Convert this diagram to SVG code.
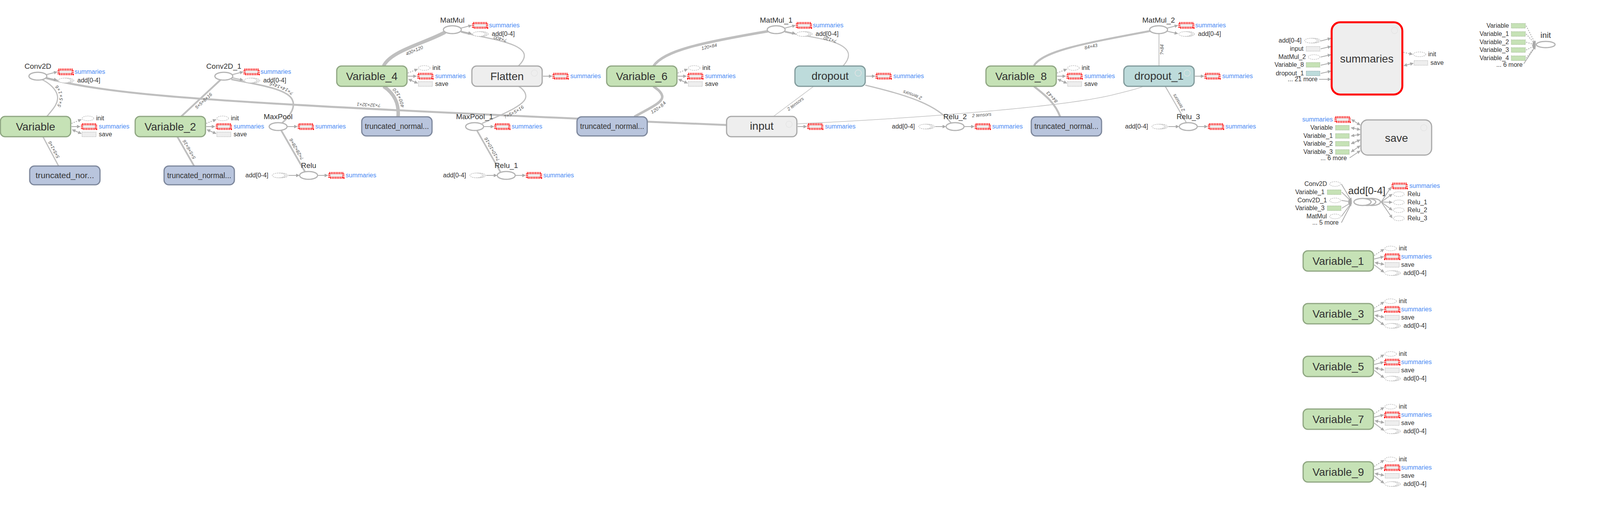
<svg xmlns="http://www.w3.org/2000/svg" xmlns:xlink="http://www.w3.org/1999/xlink" width="4099" height="1326" viewBox="0 0 4099 1326">
<style>
text{font-family:"Liberation Sans",Arial,sans-serif;fill:#333}
.big{font-size:28px;text-anchor:middle}
.tnl{font-size:20px;text-anchor:middle}
.mid{font-size:19px;text-anchor:middle}
.sm{font-size:16px}
.r{text-anchor:end}
.blue{fill:#4a8af4}
.vg{fill:#c6e2b6;stroke:#8fa682;stroke-width:3}
.tn{fill:#b9c5dd;stroke:#7d879c;stroke-width:3}
.dp{fill:#bddbdb;stroke:#819a9b;stroke-width:3}
.gr{fill:#eeeeee;stroke:#a9a9a9;stroke-width:3}
.op{fill:#fff;stroke:#b3b3b3;stroke-width:3}
.sum{fill:#eeeeee;stroke:#ff0000;stroke-width:5.5;stroke-dasharray:2 2.2}
.sv{fill:#eeeeee;stroke:#bbbbbb;stroke-width:1.5;stroke-dasharray:2 1.5}
.gv{fill:#c6e2b6;stroke:#a3b996;stroke-width:1.5;stroke-dasharray:2 1.5}
.tv{fill:#bddbdb;stroke:#90a8a9;stroke-width:1.5;stroke-dasharray:2 1.5}
.de{fill:#fff;stroke:#bbbbbb;stroke-width:1.5;stroke-dasharray:3 2}
.fc{fill:none;stroke:#e4e4e4;stroke-width:1.5}
.e{fill:none;stroke:#bfbfbf}
.el{font-size:12px;font-style:italic;fill:#555;text-anchor:middle}
.ax{fill:none;stroke:#aaaaaa;stroke-width:2;marker-end:url(#ah)}
.axd{fill:none;stroke:#aaaaaa;stroke-width:2;stroke-dasharray:3 3;marker-end:url(#ah)}
.ax2{fill:none;stroke:#aaaaaa;stroke-width:2;marker-start:url(#ah);marker-end:url(#ah)}
.ln{fill:none;stroke:#aaaaaa;stroke-width:2}
</style>
<defs>
<marker id="ah" viewBox="0 0 10 10" refX="9" refY="5" markerWidth="9" markerHeight="9" markerUnits="userSpaceOnUse" orient="auto-start-reverse"><path d="M0,0 L10,5 L0,10 z" fill="#aaaaaa"/></marker>
<g id="ser"><ellipse class="de" cx="8" cy="0" rx="16" ry="6"/><ellipse class="de" cx="4" cy="0" rx="16" ry="6"/><ellipse class="de" cx="0" cy="0" rx="16" ry="6"/></g>
<g id="bigser"><ellipse class="op" cx="24" cy="0" rx="22" ry="9"/><ellipse class="op" cx="12" cy="0" rx="22" ry="9"/><ellipse class="op" cx="0" cy="0" rx="22" ry="9"/></g>
</defs>
<rect width="4099" height="1326" fill="#fff"/>

<g id="connectors">
<path id="e1" class="e" stroke-width="3" d="M120,298 C140,275 150,262 147,245 C144,228 125,212 108,204"/>
<path id="e2" class="e" stroke-width="3" d="M150,425 L110,350"/>
<path id="e3" class="e" stroke-width="5" d="M1860,320 C1500,305 1000,283 700,265 C450,250 250,235 118,200"/>
<path id="e4" class="e" stroke-width="4.5" d="M464,298 L565,204"/>
<path id="e5" class="e" stroke-width="4.5" d="M497,425 L454,350"/>
<path id="e6" class="e" stroke-width="4" d="M722,315 C745,295 760,270 745,250 C725,225 650,215 592,203"/>
<path id="e7" class="e" stroke-width="4.5" d="M781,440 L720,334"/>
<path id="e8" class="e" stroke-width="9" d="M982,169 C1000,130 1090,110 1140,82"/>
<path id="e9" class="e" stroke-width="9" d="M1019,299 C1022,265 1010,240 982,221"/>
<path id="e10" class="e" stroke-width="3" d="M1326,170 C1352,145 1345,130 1318,117 C1280,100 1220,93 1180,82"/>
<path id="e11" class="e" stroke-width="3" d="M1234,316 C1280,295 1345,270 1346,248 C1347,235 1335,225 1326,220"/>
<path id="e12" class="e" stroke-width="4" d="M1281,440 L1221,334"/>
<path id="e13" class="e" stroke-width="6.5" d="M1673,169 C1700,130 1790,110 1966,80"/>
<path id="e14" class="e" stroke-width="6.5" d="M1624,299 C1660,278 1700,262 1695,245 C1692,233 1680,227 1673,221"/>
<path id="e15" class="e" stroke-width="2.5" d="M2158,169 C2180,145 2178,125 2140,110 C2100,95 2040,90 2009,82"/>
<path id="e16" class="e" stroke-width="1.5" d="M1980,298 L2083,221"/>
<path id="e17" class="e" stroke-width="3" d="M2435,315 C2400,270 2330,245 2215,218"/>
<path id="e18" class="e" stroke-width="1.5" d="M2040,317 C2400,300 2750,270 2860,240 C2900,230 2920,225 2926,221"/>
<path id="e19" class="e" stroke-width="2.5" d="M3037,314 L2983,221"/>
<path id="e20" class="e" stroke-width="2" d="M2967,168 L2967,86"/>
<path id="e21" class="e" stroke-width="5" d="M2647,168 C2670,130 2780,110 2946,79"/>
<path id="e22" class="e" stroke-width="5" d="M2714,299 C2700,260 2670,240 2647,221"/>

<text class="el" dy="13"><textPath href="#e1" startOffset="50%">5×5×1×6</textPath></text>
<text class="el" dy="13"><textPath href="#e2" startOffset="50%">5×5×1×6</textPath></text>
<text class="el" dy="14"><textPath href="#e3" startOffset="52.5%">?×32×32×1</textPath></text>
<text class="el" dy="14"><textPath href="#e4" startOffset="50%">5×5×6×16</textPath></text>
<text class="el" dy="14"><textPath href="#e5" startOffset="50%">5×5×6×16</textPath></text>
<text class="el" dy="13"><textPath href="#e6" startOffset="46%">?×14×14×6</textPath></text>
<text class="el" dy="14"><textPath href="#e7" startOffset="50%">?×28×28×6</textPath></text>
<text class="el" dy="16"><textPath href="#e8" startOffset="50%">400×120</textPath></text>
<text class="el" dy="16"><textPath href="#e9" startOffset="50%">400×120</textPath></text>
<text class="el" dy="9"><textPath href="#e10" startOffset="52%">?×400</textPath></text>
<text class="el" dy="13"><textPath href="#e11" startOffset="50%">?×5×5×16</textPath></text>
<text class="el" dy="14"><textPath href="#e12" startOffset="50%">?×10×10×16</textPath></text>
<text class="el" dy="15"><textPath href="#e13" startOffset="50%">120×84</textPath></text>
<text class="el" dy="15"><textPath href="#e14" startOffset="50%">120×84</textPath></text>
<text class="el" dy="8"><textPath href="#e15" startOffset="45%">?×120</textPath></text>
<text class="el" dy="12"><textPath href="#e16" startOffset="50%">2 tensors</textPath></text>
<text class="el" dy="13"><textPath href="#e17" startOffset="50%">2 tensors</textPath></text>
<text class="el" dy="12"><textPath href="#e18" startOffset="53%">2 tensors</textPath></text>
<text class="el" dy="13"><textPath href="#e19" startOffset="50%">2 tensors</textPath></text>
<text class="el" dy="12"><textPath href="#e20" startOffset="50%">?×84</textPath></text>
<text class="el" dy="14"><textPath href="#e21" startOffset="50%">84×43</textPath></text>
<text class="el" dy="14"><textPath href="#e22" startOffset="50%">84×43</textPath></text>

<path class="ax" d="M119,191 L146,184"/><path class="ax" d="M119,199 L146,205"/>
<path class="ax" d="M595,191 L622,184"/><path class="ax" d="M595,199 L622,205"/>
<path class="ax" d="M1180,72 L1207,65"/><path class="ax" d="M1180,80 L1207,86"/>
<path class="ax" d="M2009,72 L2036,65"/><path class="ax" d="M2009,80 L2036,86"/>
<path class="ax" d="M2988,72 L3015,65"/><path class="ax" d="M2988,80 L3015,86"/>
<path class="ax" d="M735,324 L761,324"/>
<path class="ax" d="M1238,324 L1264,324"/>
<path class="ax" d="M739,449 L766,449"/><path class="ax" d="M813,449 L839,449"/>
<path class="ax" d="M1245,449 L1272,449"/><path class="ax" d="M1319,449 L1345,449"/>
<path class="ax" d="M2394,324 L2421,324"/><path class="ax" d="M2468,324 L2494,324"/>
<path class="ax" d="M2991,324 L3018,324"/><path class="ax" d="M3065,324 L3091,324"/>
<path class="axd" d="M183,316 L208,306"/><path class="ax" d="M183,324 L205,324"/><path class="ax2" d="M185,332 L208,342"/>
<path class="axd" d="M528,316 L553,306"/><path class="ax" d="M528,324 L550,324"/><path class="ax2" d="M530,332 L553,342"/>
<path class="axd" d="M1044,187 L1069,177"/><path class="ax" d="M1044,195 L1066,195"/><path class="ax2" d="M1046,203 L1069,213"/>
<path class="axd" d="M1735,187 L1760,177"/><path class="ax" d="M1735,195 L1757,195"/><path class="ax2" d="M1737,203 L1760,213"/>
<path class="axd" d="M2706,187 L2731,177"/><path class="ax" d="M2706,195 L2728,195"/><path class="ax2" d="M2708,203 L2731,213"/>
<path class="ax" d="M1390,195 L1413,195"/>
<path class="ax" d="M2217,195 L2240,195"/>
<path class="ax" d="M3059,195 L3082,195"/>
<path class="ax" d="M2042,324 L2065,324"/>
<path class="axd" d="M3518,654 L3543,638"/><path class="ax" d="M3518,663 L3542,657"/><path class="ax2" d="M3520,672 L3543,677"/><path class="ax" d="M3518,678 L3543,697"/>
<path class="axd" d="M3518,789 L3543,773"/><path class="ax" d="M3518,798 L3542,792"/><path class="ax2" d="M3520,807 L3543,812"/><path class="ax" d="M3518,813 L3543,832"/>
<path class="axd" d="M3518,924 L3543,908"/><path class="ax" d="M3518,933 L3542,927"/><path class="ax2" d="M3520,942 L3543,947"/><path class="ax" d="M3518,948 L3543,967"/>
<path class="axd" d="M3518,1059 L3543,1043"/><path class="ax" d="M3518,1068 L3542,1062"/><path class="ax2" d="M3520,1077 L3543,1082"/><path class="ax" d="M3518,1083 L3543,1102"/>
<path class="axd" d="M3518,1194 L3543,1178"/><path class="ax" d="M3518,1203 L3542,1197"/><path class="ax2" d="M3520,1212 L3543,1217"/><path class="ax" d="M3518,1218 L3543,1237"/>
<path class="ax" d="M3381,105 L3407,98"/><path class="ax" d="M3381,125 L3407,119"/><path class="ax" d="M3381,146 L3407,140"/><path class="ax" d="M3381,167 L3407,161"/><path class="ax" d="M3381,188 L3407,182"/><path class="ax" d="M3377,203 L3407,203"/>
<path class="axd" d="M3593,134 L3616,139"/><path class="ax2" d="M3594,168 L3618,162"/>
<path class="ax2" d="M3460,306 L3482,320"/><path class="ax2" d="M3459,327 L3482,332"/><path class="ax2" d="M3459,348 L3482,344"/><path class="ax2" d="M3459,368 L3482,358"/><path class="ax2" d="M3459,389 L3482,373"/><path class="ax" d="M3455,404 L3482,386"/>
<path class="ax" d="M3434,471 L3460,515"/><path class="ax" d="M3435,492 L3460,516"/><path class="ax" d="M3434,513 L3460,517"/><path class="ax" d="M3435,533 L3460,518"/><path class="ax" d="M3434,554 L3460,519"/><path class="ln" d="M3434,570 L3460,520"/>
<path class="ax" d="M3536,517 L3561,479"/><path class="ax" d="M3536,517 L3564,497"/><path class="ax" d="M3536,517 L3564,518"/><path class="ax" d="M3536,517 L3564,538"/><path class="ax" d="M3536,517 L3564,558"/>
<path class="axd" d="M3907,66 L3931,113"/><path class="axd" d="M3907,87 L3931,114"/><path class="axd" d="M3907,108 L3931,115"/><path class="axd" d="M3907,128 L3931,116"/><path class="axd" d="M3907,149 L3931,117"/><path class="ax" d="M3901,163 L3931,118"/>
</g>

<g id="Variable"><rect class="vg" x="1" y="298" width="180" height="52" rx="12"/><text class="big" x="91" y="334">Variable</text>
<ellipse class="de" cx="225" cy="303" rx="15" ry="6"/><text class="sm" x="246" y="308">init</text>
<rect class="sum" x="210" y="318" width="36" height="12"/><text class="sm blue" x="253" y="329">summaries</text>
<rect class="sv" x="210" y="338" width="36" height="12"/><text class="sm" x="253" y="349">save</text></g>

<g id="truncated_normal_0"><rect class="tn" x="76" y="425" width="180" height="48" rx="12"/><text class="tnl" x="166" y="456" textLength="150" lengthAdjust="spacingAndGlyphs">truncated_nor...</text></g>

<g id="Conv2D"><ellipse class="op" cx="97" cy="195" rx="23" ry="10"/><text class="mid" x="97" y="176">Conv2D</text>
<rect class="sum" x="150" y="178" width="36" height="12"/><text class="sm blue" x="191" y="189">summaries</text>
<use href="#ser" x="165" y="206"/><text class="sm" x="198" y="211">add[0-4]</text></g>

<g id="Variable_2"><rect class="vg" x="346" y="298" width="180" height="52" rx="12"/><text class="big" x="436" y="334">Variable_2</text>
<ellipse class="de" cx="570" cy="303" rx="15" ry="6"/><text class="sm" x="591" y="308">init</text>
<rect class="sum" x="555" y="318" width="36" height="12"/><text class="sm blue" x="598" y="329">summaries</text>
<rect class="sv" x="555" y="338" width="36" height="12"/><text class="sm" x="598" y="349">save</text></g>

<g id="truncated_normal_1"><rect class="tn" x="420" y="425" width="180" height="48" rx="12"/><text class="tnl" x="510" y="456" textLength="164" lengthAdjust="spacingAndGlyphs">truncated_normal...</text></g>

<g id="Conv2D_1"><ellipse class="op" cx="573" cy="195" rx="23" ry="10"/><text class="mid" x="573" y="176">Conv2D_1</text>
<rect class="sum" x="626" y="178" width="36" height="12"/><text class="sm blue" x="667" y="189">summaries</text>
<use href="#ser" x="641" y="206"/><text class="sm" x="674" y="211">add[0-4]</text></g>

<g id="MaxPool"><ellipse class="op" cx="712" cy="324" rx="23" ry="10"/><text class="mid" x="712" y="305">MaxPool</text>
<rect class="sum" x="765" y="318" width="36" height="12"/><text class="sm blue" x="807" y="329">summaries</text></g>

<g id="Relu"><ellipse class="op" cx="790" cy="449" rx="23" ry="10"/><text class="mid" x="790" y="430">Relu</text>
<use href="#ser" x="713" y="449"/><text class="sm r" x="687" y="454">add[0-4]</text>
<rect class="sum" x="843" y="443" width="36" height="12"/><text class="sm blue" x="885" y="454">summaries</text></g>

<g id="Variable_4"><rect class="vg" x="862" y="169" width="180" height="52" rx="12"/><text class="big" x="952" y="205">Variable_4</text>
<ellipse class="de" cx="1086" cy="174" rx="15" ry="6"/><text class="sm" x="1107" y="179">init</text>
<rect class="sum" x="1071" y="189" width="36" height="12"/><text class="sm blue" x="1114" y="200">summaries</text>
<rect class="sv" x="1071" y="209" width="36" height="12"/><text class="sm" x="1114" y="220">save</text></g>

<g id="truncated_normal_2"><rect class="tn" x="926" y="299" width="180" height="49" rx="12"/><text class="tnl" x="1016" y="330" textLength="164" lengthAdjust="spacingAndGlyphs">truncated_normal...</text></g>

<g id="MatMul"><ellipse class="op" cx="1158" cy="76" rx="23" ry="10"/><text class="mid" x="1158" y="58">MatMul</text>
<rect class="sum" x="1211" y="59" width="36" height="12"/><text class="sm blue" x="1252" y="70">summaries</text>
<use href="#ser" x="1226" y="87"/><text class="sm" x="1259" y="92">add[0-4]</text></g>

<g id="Flatten"><rect class="gr" x="1208" y="169" width="180" height="52" rx="12"/><circle class="fc" cx="1368" cy="187" r="8"/><text class="big" x="1298" y="205">Flatten</text>
<rect class="sum" x="1417" y="189" width="36" height="12"/><text class="sm blue" x="1460" y="200">summaries</text></g>

<g id="MaxPool_1"><ellipse class="op" cx="1215" cy="324" rx="23" ry="10"/><text class="mid" x="1215" y="305">MaxPool_1</text>
<rect class="sum" x="1268" y="318" width="36" height="12"/><text class="sm blue" x="1310" y="329">summaries</text></g>

<g id="Relu_1"><ellipse class="op" cx="1296" cy="449" rx="23" ry="10"/><text class="mid" x="1296" y="430">Relu_1</text>
<use href="#ser" x="1219" y="449"/><text class="sm r" x="1193" y="454">add[0-4]</text>
<rect class="sum" x="1349" y="443" width="36" height="12"/><text class="sm blue" x="1391" y="454">summaries</text></g>

<g id="Variable_6"><rect class="vg" x="1553" y="169" width="180" height="52" rx="12"/><text class="big" x="1643" y="205">Variable_6</text>
<ellipse class="de" cx="1777" cy="174" rx="15" ry="6"/><text class="sm" x="1798" y="179">init</text>
<rect class="sum" x="1762" y="189" width="36" height="12"/><text class="sm blue" x="1805" y="200">summaries</text>
<rect class="sv" x="1762" y="209" width="36" height="12"/><text class="sm" x="1805" y="220">save</text></g>

<g id="truncated_normal_3"><rect class="tn" x="1477" y="299" width="180" height="49" rx="12"/><text class="tnl" x="1567" y="330" textLength="164" lengthAdjust="spacingAndGlyphs">truncated_normal...</text></g>

<g id="MatMul_1"><ellipse class="op" cx="1987" cy="76" rx="23" ry="10"/><text class="mid" x="1987" y="58">MatMul_1</text>
<rect class="sum" x="2040" y="59" width="36" height="12"/><text class="sm blue" x="2081" y="70">summaries</text>
<use href="#ser" x="2055" y="87"/><text class="sm" x="2088" y="92">add[0-4]</text></g>

<g id="input"><rect class="gr" x="1860" y="298" width="180" height="52" rx="12"/><circle class="fc" cx="2020" cy="318" r="8"/><text class="big" x="1950" y="332">input</text>
<rect class="sum" x="2069" y="318" width="36" height="12"/><text class="sm blue" x="2112" y="329">summaries</text></g>

<g id="dropout"><rect class="dp" x="2035" y="169" width="180" height="52" rx="12"/><circle class="fc" cx="2197" cy="187" r="8"/><text class="big" x="2125" y="204">dropout</text>
<rect class="sum" x="2244" y="189" width="36" height="12"/><text class="sm blue" x="2287" y="200">summaries</text></g>

<g id="Relu_2"><ellipse class="op" cx="2445" cy="324" rx="23" ry="10"/><text class="mid" x="2445" y="305">Relu_2</text>
<use href="#ser" x="2368" y="324"/><text class="sm r" x="2342" y="329">add[0-4]</text>
<rect class="sum" x="2498" y="318" width="36" height="12"/><text class="sm blue" x="2540" y="329">summaries</text></g>

<g id="Variable_8"><rect class="vg" x="2524" y="169" width="180" height="52" rx="12"/><text class="big" x="2614" y="205">Variable_8</text>
<ellipse class="de" cx="2748" cy="174" rx="15" ry="6"/><text class="sm" x="2769" y="179">init</text>
<rect class="sum" x="2733" y="189" width="36" height="12"/><text class="sm blue" x="2776" y="200">summaries</text>
<rect class="sv" x="2733" y="209" width="36" height="12"/><text class="sm" x="2776" y="220">save</text></g>

<g id="truncated_normal_4"><rect class="tn" x="2640" y="299" width="180" height="49" rx="12"/><text class="tnl" x="2730" y="330" textLength="164" lengthAdjust="spacingAndGlyphs">truncated_normal...</text></g>

<g id="MatMul_2"><ellipse class="op" cx="2966" cy="76" rx="23" ry="10"/><text class="mid" x="2966" y="58">MatMul_2</text>
<rect class="sum" x="3019" y="59" width="36" height="12"/><text class="sm blue" x="3060" y="70">summaries</text>
<use href="#ser" x="3034" y="87"/><text class="sm" x="3067" y="92">add[0-4]</text></g>

<g id="dropout_1"><rect class="dp" x="2877" y="169" width="180" height="52" rx="12"/><circle class="fc" cx="3039" cy="187" r="8"/><text class="big" x="2967" y="204">dropout_1</text>
<rect class="sum" x="3086" y="189" width="36" height="12"/><text class="sm blue" x="3129" y="200">summaries</text></g>

<g id="Relu_3"><ellipse class="op" cx="3042" cy="324" rx="23" ry="10"/><text class="mid" x="3042" y="305">Relu_3</text>
<use href="#ser" x="2965" y="324"/><text class="sm r" x="2939" y="329">add[0-4]</text>
<rect class="sum" x="3095" y="318" width="36" height="12"/><text class="sm blue" x="3137" y="329">summaries</text></g>

<g id="summaries"><rect x="3409" y="57" width="181" height="185" rx="22" fill="#eeeeee" stroke="#ff0000" stroke-width="5"/><circle class="fc" cx="3570" cy="78" r="8"/><text class="big" x="3499" y="160">summaries</text>
<text class="sm r" x="3332" y="109">add[0-4]</text><use href="#ser" x="3356" y="104"/>
<text class="sm r" x="3337" y="130">input</text><rect class="sv" x="3344" y="119" width="35" height="12"/>
<text class="sm r" x="3343" y="151">MatMul_2</text><ellipse class="de" cx="3364" cy="146" rx="15" ry="6"/>
<text class="sm r" x="3338" y="171">Variable_8</text><rect class="gv" x="3344" y="160" width="35" height="12"/>
<text class="sm r" x="3338" y="193">dropout_1</text><rect class="tv" x="3344" y="182" width="35" height="12"/>
<text class="sm r" x="3373" y="208">... 21 more</text>
<ellipse class="de" cx="3634" cy="139" rx="16" ry="6"/><text class="sm" x="3656" y="144">init</text>
<rect class="sv" x="3620" y="155" width="35" height="12"/><text class="sm" x="3662" y="166">save</text></g>

<g id="init"><ellipse class="op" cx="3957" cy="114" rx="24" ry="8"/><text class="mid" x="3957" y="97" style="font-size:21px">init</text>
<text class="sm r" x="3863" y="71">Variable</text><rect class="gv" x="3869" y="60" width="36" height="12"/>
<text class="sm r" x="3863" y="92">Variable_1</text><rect class="gv" x="3869" y="81" width="36" height="12"/>
<text class="sm r" x="3863" y="113">Variable_2</text><rect class="gv" x="3869" y="102" width="36" height="12"/>
<text class="sm r" x="3863" y="133">Variable_3</text><rect class="gv" x="3869" y="122" width="36" height="12"/>
<text class="sm r" x="3863" y="154">Variable_4</text><rect class="gv" x="3869" y="143" width="36" height="12"/>
<text class="sm r" x="3898" y="171">... 6 more</text></g>

<g id="save"><rect class="gr" x="3484" y="307" width="181" height="90" rx="17"/><circle class="fc" cx="3645" cy="327" r="8"/><text class="big" x="3575" y="363">save</text>
<text class="sm r blue" x="3412" y="311">summaries</text><rect class="sum" x="3419" y="300" width="36" height="12"/>
<text class="sm r" x="3412" y="332">Variable</text><rect class="gv" x="3419" y="321" width="35" height="12"/>
<text class="sm r" x="3412" y="353">Variable_1</text><rect class="gv" x="3419" y="342" width="35" height="12"/>
<text class="sm r" x="3412" y="373">Variable_2</text><rect class="gv" x="3419" y="362" width="35" height="12"/>
<text class="sm r" x="3412" y="394">Variable_3</text><rect class="gv" x="3419" y="383" width="35" height="12"/>
<text class="sm r" x="3448" y="410">... 6 more</text></g>

<g id="add_0-4"><use href="#bigser" x="3488" y="517"/><text class="mid" x="3499" y="497" style="font-size:26px">add[0-4]</text>
<text class="sm r" x="3397" y="476">Conv2D</text><ellipse class="de" cx="3418" cy="471" rx="14" ry="6"/>
<text class="sm r" x="3391" y="497">Variable_1</text><rect class="gv" x="3398" y="486" width="35" height="12"/>
<text class="sm r" x="3397" y="518">Conv2D_1</text><ellipse class="de" cx="3418" cy="513" rx="14" ry="6"/>
<text class="sm r" x="3391" y="538">Variable_3</text><rect class="gv" x="3398" y="527" width="35" height="12"/>
<text class="sm r" x="3397" y="559">MatMul</text><ellipse class="de" cx="3418" cy="554" rx="14" ry="6"/>
<text class="sm r" x="3427" y="575">... 5 more</text>
<rect class="sum" x="3565" y="470" width="36" height="12"/><text class="sm blue" x="3608" y="481">summaries</text>
<ellipse class="de" cx="3581" cy="497" rx="14" ry="6"/><text class="sm" x="3603" y="502">Relu</text>
<ellipse class="de" cx="3581" cy="518" rx="14" ry="6"/><text class="sm" x="3603" y="523">Relu_1</text>
<ellipse class="de" cx="3581" cy="538" rx="14" ry="6"/><text class="sm" x="3603" y="543">Relu_2</text>
<ellipse class="de" cx="3581" cy="559" rx="14" ry="6"/><text class="sm" x="3603" y="564">Relu_3</text></g>

<g id="Variable_1"><rect class="vg" x="3336" y="642" width="180" height="52" rx="12"/><text class="big" x="3426" y="678">Variable_1</text>
<ellipse class="de" cx="3560" cy="636" rx="15" ry="6"/><text class="sm" x="3581" y="641">init</text>
<rect class="sum" x="3546" y="651" width="36" height="12"/><text class="sm blue" x="3587" y="662">summaries</text>
<rect class="sv" x="3546" y="672" width="36" height="12"/><text class="sm" x="3587" y="683">save</text>
<use href="#ser" x="3561" y="699"/><text class="sm" x="3593" y="704">add[0-4]</text></g>

<g id="Variable_3"><rect class="vg" x="3336" y="777" width="180" height="52" rx="12"/><text class="big" x="3426" y="813">Variable_3</text>
<ellipse class="de" cx="3560" cy="771" rx="15" ry="6"/><text class="sm" x="3581" y="776">init</text>
<rect class="sum" x="3546" y="786" width="36" height="12"/><text class="sm blue" x="3587" y="797">summaries</text>
<rect class="sv" x="3546" y="807" width="36" height="12"/><text class="sm" x="3587" y="818">save</text>
<use href="#ser" x="3561" y="834"/><text class="sm" x="3593" y="839">add[0-4]</text></g>

<g id="Variable_5"><rect class="vg" x="3336" y="912" width="180" height="52" rx="12"/><text class="big" x="3426" y="948">Variable_5</text>
<ellipse class="de" cx="3560" cy="906" rx="15" ry="6"/><text class="sm" x="3581" y="911">init</text>
<rect class="sum" x="3546" y="921" width="36" height="12"/><text class="sm blue" x="3587" y="932">summaries</text>
<rect class="sv" x="3546" y="942" width="36" height="12"/><text class="sm" x="3587" y="953">save</text>
<use href="#ser" x="3561" y="969"/><text class="sm" x="3593" y="974">add[0-4]</text></g>

<g id="Variable_7"><rect class="vg" x="3336" y="1047" width="180" height="52" rx="12"/><text class="big" x="3426" y="1083">Variable_7</text>
<ellipse class="de" cx="3560" cy="1041" rx="15" ry="6"/><text class="sm" x="3581" y="1046">init</text>
<rect class="sum" x="3546" y="1056" width="36" height="12"/><text class="sm blue" x="3587" y="1067">summaries</text>
<rect class="sv" x="3546" y="1077" width="36" height="12"/><text class="sm" x="3587" y="1088">save</text>
<use href="#ser" x="3561" y="1104"/><text class="sm" x="3593" y="1109">add[0-4]</text></g>

<g id="Variable_9"><rect class="vg" x="3336" y="1182" width="180" height="52" rx="12"/><text class="big" x="3426" y="1218">Variable_9</text>
<ellipse class="de" cx="3560" cy="1176" rx="15" ry="6"/><text class="sm" x="3581" y="1181">init</text>
<rect class="sum" x="3546" y="1191" width="36" height="12"/><text class="sm blue" x="3587" y="1202">summaries</text>
<rect class="sv" x="3546" y="1212" width="36" height="12"/><text class="sm" x="3587" y="1223">save</text>
<use href="#ser" x="3561" y="1239"/><text class="sm" x="3593" y="1244">add[0-4]</text></g>
</svg>
